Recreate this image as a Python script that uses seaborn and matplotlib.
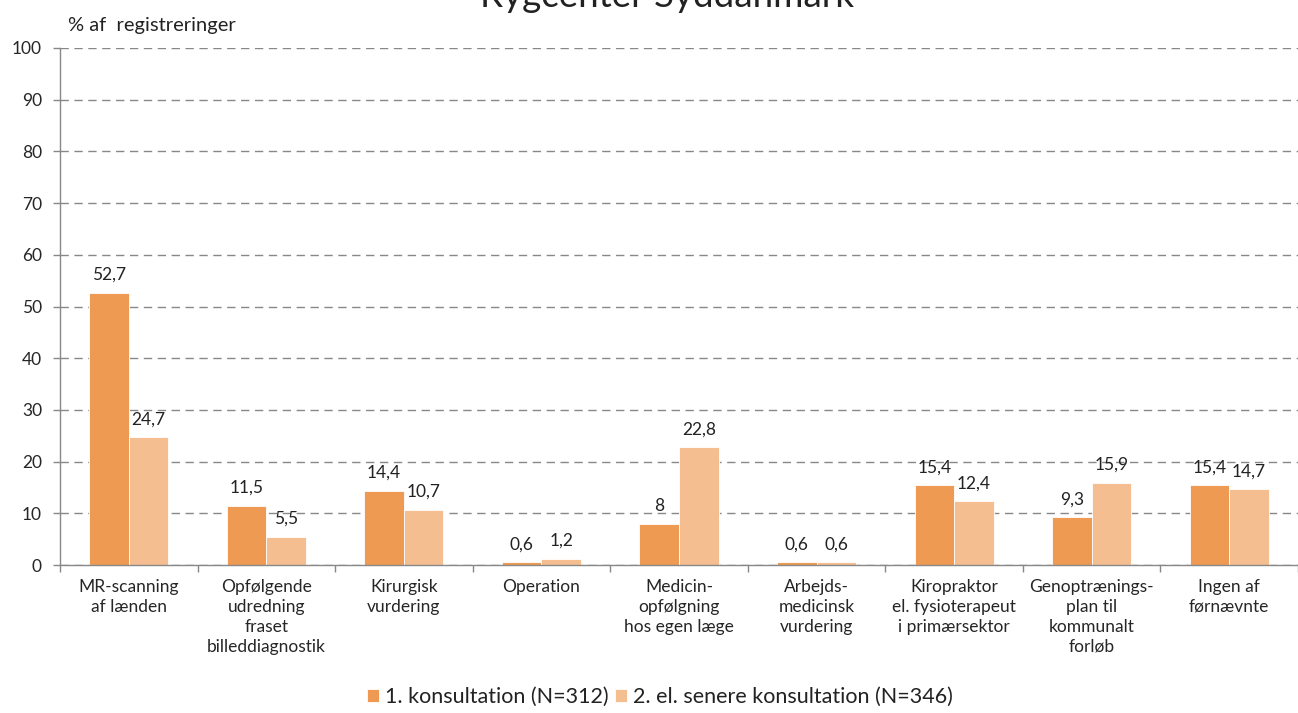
import pandas as pd
import matplotlib.pyplot as plt
import seaborn as sns
from matplotlib.ticker import MultipleLocator, FixedLocator

# data
categories = [
    "MR-scanning\naf lænden",
    "Opfølgende\nudredning\nfraset\nbilleddiagnostik",
    "Kirurgisk\nvurdering",
    "Operation",
    "Medicin-\nopfølgning\nhos egen læge",
    "Arbejds-\nmedicinsk\nvurdering",
    "Kiropraktor\nel. fysioterapeut\ni primærsektor",
    "Genoptrænings-\nplan til\nkommunalt\nforløb",
    "Ingen af\nførnævnte",
]
series_names = ["1. konsultation (N=312)", "2. el. senere konsultation (N=346)"]
first_visit = [52.7, 11.5, 14.4, 0.6, 8, 0.6, 15.4, 9.3, 15.4]
later_visit = [24.7, 5.5, 10.7, 1.2, 22.8, 0.6, 12.4, 15.9, 14.7]
colors = ["#EF9A53", "#F5BE91"]

df = pd.DataFrame({
    "kategori": categories * 2,
    "serie": [series_names[0]] * len(categories) + [series_names[1]] * len(categories),
    "pct": first_visit + later_visit,
})

sns.set_theme(style="white")
plt.rcParams['font.family'] = ['Lato', 'DejaVu Sans']
plt.rcParams['text.color'] = '#222222'

fig = plt.figure(figsize=(12.98, 7.13), dpi=100)
ax = fig.add_axes([60 / 1298, 1 - 565 / 713, 1 - 60 / 1298, (565 - 48) / 713])

sns.barplot(data=df, x="kategori", y="pct", hue="serie", palette=colors,
            width=0.575, gap=0, saturation=1, edgecolor="white", linewidth=0.6, ax=ax)

# value labels
for cont, vals in zip(ax.containers, [first_visit, later_visit]):
    labels = [f"{v:g}".replace('.', ',') for v in vals]
    ax.bar_label(cont, labels=labels, padding=7, fontsize=12.5, color='#222222')

ax.set_ylim(0, 100)
ax.set_xlim(-0.5, len(categories) - 0.5)
ax.yaxis.set_major_locator(MultipleLocator(10))
ax.grid(axis='y', color='#888888', linestyle=(0, (6, 4)), linewidth=1)
ax.set_axisbelow(True)
ax.set_xlabel("")
ax.set_ylabel("")

for side in ['top', 'right']:
    ax.spines[side].set_visible(False)
for side in ['left', 'bottom']:
    ax.spines[side].set_color('#888888')
    ax.spines[side].set_linewidth(1)

ax.tick_params(axis='y', length=5, width=1, color='#888888', pad=8, labelsize=12.5, left=True)
ax.tick_params(axis='x', which='major', length=0, pad=10, labelsize=12.5)
ax.xaxis.set_minor_locator(FixedLocator([i - 0.5 for i in range(len(categories) + 1)]))
ax.tick_params(axis='x', which='minor', length=5, width=1, color='#888888', bottom=True)
for lab in ax.get_xticklabels():
    lab.set_linespacing(1.3)

handles, labels = ax.get_legend_handles_labels()
ax.get_legend().remove()
fig.legend(handles, labels, loc='center', bbox_to_anchor=(660 / 1298, 1 - 697 / 713),
           ncol=2, frameon=False, fontsize=15.5, handlelength=0.55, handleheight=0.55,
           handletextpad=0.3, columnspacing=0.3)

fig.text(68 / 1298, 1 - 25 / 713, "% af  registreringer", fontsize=14.5, va='center', ha='left')
fig.text(667 / 1298, 1 - 7 / 713, "Rygcenter Syddanmark", fontsize=26.5, va='baseline', ha='center')

fig.savefig('out.png', dpi=100)
